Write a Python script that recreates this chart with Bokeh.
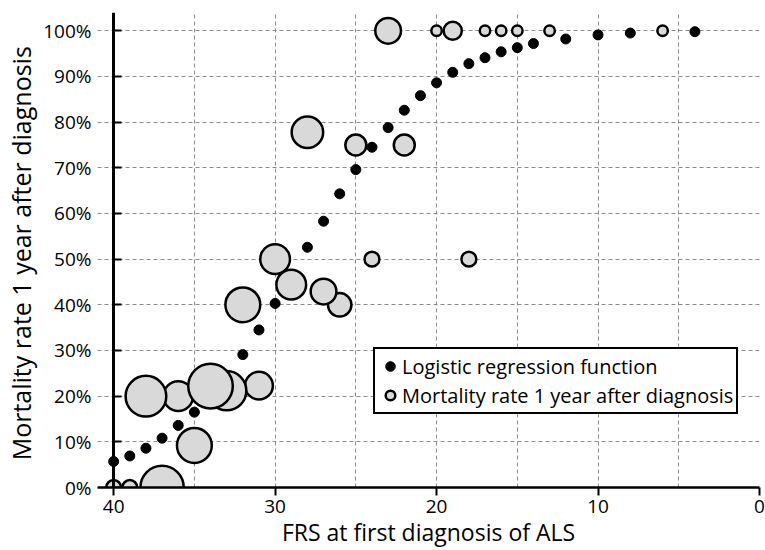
import numpy as np
from bokeh.plotting import figure
from bokeh.models import (Range1d, FixedTicker, NumeralTickFormatter, Legend,
                          LegendItem, ColumnDataSource, LinearAxis,
                          CustomJSTickFormatter)
from bokeh.embed import file_html
from bokeh.resources import INLINE

# ---- data ----
frs_fit = [40, 39, 38, 37, 36, 35, 32, 31, 30, 28, 27, 26, 25, 24, 23, 22, 21,
           20, 19, 18, 17, 16, 15, 14, 12, 10, 8, 4]
fit_rate = [0.057, 0.069, 0.086, 0.108, 0.136, 0.165, 0.291, 0.345, 0.403,
            0.526, 0.583, 0.643, 0.696, 0.745, 0.788, 0.826, 0.858, 0.886,
            0.909, 0.928, 0.941, 0.954, 0.963, 0.972, 0.982, 0.991, 0.995, 0.998]

frs_obs = [20, 17, 16, 15, 13, 6, 24, 18, 40, 39, 19, 25, 22, 26, 23, 27, 31,
           30, 29, 36, 28, 32, 35, 33, 38, 37, 34]
obs_rate = [1.0, 1.0, 1.0, 1.0, 1.0, 1.0, 0.5, 0.5, 0.0, 0.0, 1.0, 0.75, 0.75,
            0.40, 1.0, 0.429, 0.223, 0.50, 0.444, 0.20, 0.778, 0.40, 0.092,
            0.212, 0.20, 0.0, 0.222]
patients = [1, 1, 1, 1, 1, 1, 2, 2, 2, 2, 3, 4, 4, 5, 6, 6, 7, 8, 8, 8, 9, 11,
            11, 14, 15, 17, 18]

x_ticks = [40, 30, 20, 10, 0]
x_grid = [40, 35, 30, 25, 20, 15, 10, 5, 0]
y_ticks = [0.0, 0.1, 0.2, 0.3, 0.4, 0.5, 0.6, 0.7, 0.8, 0.9, 1.0]
y_axis_cross = 40

FONT = "Open Sans"

p = figure(width=765, height=550, output_backend="svg", toolbar_location=None,
           x_range=Range1d(41, 0), y_range=Range1d(0, 1.04),
           min_border_left=97, min_border_right=6, min_border_top=12,
           min_border_bottom=63)
p.outline_line_color = None
p.background_fill_color = "white"
p.border_fill_color = "white"

# grid
p.xgrid.ticker = FixedTicker(ticks=x_grid)
p.ygrid.ticker = FixedTicker(ticks=y_ticks)
for g in (p.xgrid, p.ygrid):
    g.grid_line_color = "#8c8c8c"
    g.grid_line_dash = "4 3"
    g.grid_line_width = 1

# x axis
xa = p.xaxis[0]
xa.ticker = FixedTicker(ticks=x_ticks)
xa.axis_line_color = "black"
xa.axis_line_width = 2.5
xa.major_tick_line_color = "black"
xa.major_tick_line_width = 2
xa.major_tick_out = 8
xa.major_tick_in = 0
xa.minor_tick_line_color = None
xa.major_label_standoff = 4
xa.major_label_text_font = FONT
xa.major_label_text_font_size = "19px"
xa.major_label_text_color = "black"
xa.axis_label = "FRS at first diagnosis of ALS"
xa.axis_label_text_font = FONT
xa.axis_label_text_font_size = "23px"
xa.axis_label_text_font_style = "normal"
xa.axis_label_text_color = "black"
xa.axis_label_standoff = 0

# y axis labels at the frame edge
ya = p.yaxis[0]
ya.ticker = FixedTicker(ticks=y_ticks)
ya.formatter = NumeralTickFormatter(format="0%")
ya.axis_line_color = None
ya.major_tick_line_color = None
ya.minor_tick_line_color = None
ya.major_tick_in = 0
ya.major_tick_out = 0
ya.major_label_standoff = 6
ya.major_label_text_font = FONT
ya.major_label_text_font_size = "19px"
ya.major_label_text_color = "black"
ya.axis_label = "Mortality rate  1 year after diagnosis"
ya.axis_label_text_font = FONT
ya.axis_label_text_font_size = "25px"
ya.axis_label_text_font_style = "normal"
ya.axis_label_text_color = "black"
ya.axis_label_standoff = 2

# y axis line crossing at FRS = 40
ycross = LinearAxis(fixed_location=y_axis_cross,
                    ticker=FixedTicker(ticks=y_ticks),
                    formatter=CustomJSTickFormatter(code="return ''"))
ycross.axis_line_color = "black"
ycross.axis_line_width = 3
ycross.major_tick_line_color = "black"
ycross.major_tick_line_width = 2
ycross.major_tick_in = 8
ycross.major_tick_out = 0
ycross.minor_tick_line_color = None
ycross.major_label_text_font_size = "1px"
p.add_layout(ycross, "left")

# glyphs
fit_src = ColumnDataSource(dict(x=frs_fit, y=fit_rate))
obs_src = ColumnDataSource(dict(x=frs_obs, y=obs_rate,
                                s=[10.5 * np.sqrt(n) for n in patients]))

r_fit = p.scatter("x", "y", source=fit_src, size=10, fill_color="black",
                  line_color="black")
r_obs = p.scatter("x", "y", source=obs_src, size="s", fill_color="#d9d9d9",
                  line_color="black", line_width=2.5)

legend = Legend(items=[
    LegendItem(label="Logistic regression function", renderers=[r_fit]),
    LegendItem(label="Mortality rate 1 year after diagnosis", renderers=[r_obs]),
], location=(276, 73))
legend.border_line_color = "black"
legend.border_line_alpha = 1
legend.border_line_width = 2
legend.background_fill_color = "white"
legend.background_fill_alpha = 1
legend.label_text_font = FONT
legend.label_text_font_size = "20px"
legend.label_text_color = "black"
legend.glyph_width = 24
legend.glyph_height = 28
legend.label_height = 28
legend.padding = 3
legend.spacing = 1
legend.label_standoff = 0
legend.margin = 0
p.add_layout(legend)

open("out.html", "w").write(file_html(p, INLINE))
